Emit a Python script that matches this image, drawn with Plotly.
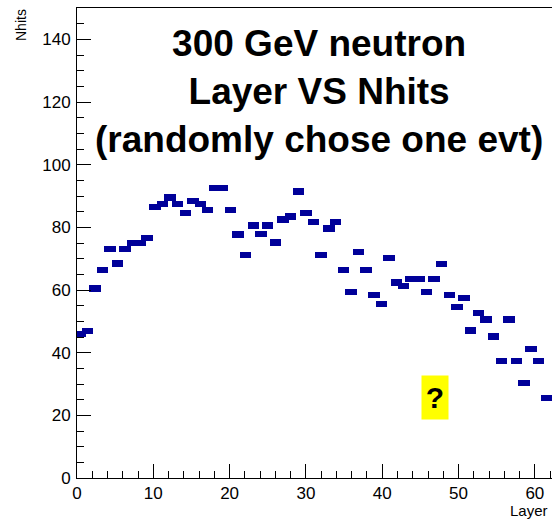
import plotly.graph_objects as go
import numpy as np

# Layer position of each marker
layers = [0.4, 1.35, 2.35, 3.35, 4.3, 5.3, 6.3, 7.3, 8.3, 9.2,
          10.2, 11.2, 12.2, 13.2, 14.2, 15.2, 16.2, 17.1, 18.1, 19.1,
          20.1, 21.1, 22.1, 23.1, 24.1, 25.0, 26.0, 27.0, 28.0, 29.0,
          30.0, 31.0, 32.0, 33.0, 33.9, 34.9, 35.9, 36.9, 37.9, 38.9,
          39.9, 40.9, 41.9, 42.8, 43.8, 44.8, 45.8, 46.8, 47.8, 48.8,
          49.8, 50.7, 51.6, 52.6, 53.6, 54.6, 55.6, 56.6, 57.6, 58.6,
          59.5, 60.5, 61.6]
# Number of hits per layer
nhits = [46, 47, 60.5, 66.5, 73, 68.5, 73, 75, 75, 76.5,
         86.5, 87.5, 89.5, 87.5, 84.5, 88.5, 87.5, 85.5, 92.5, 92.5,
         85.5, 77.7, 71.2, 80.6, 77.8, 80.6, 75.2, 82.5, 83.5, 91.4,
         84.6, 81.6, 71.2, 79.6, 81.6, 66.4, 59.4, 72.2, 66.4, 58.5,
         55.5, 70.3, 62.4, 61.3, 63.4, 63.4, 59.4, 63.4, 68.3, 58.5,
         54.5, 57.4, 47.1, 52.6, 50.6, 45.2, 37.3, 50.6, 37.3, 30.4,
         41.2, 37.3, 25.5]

x_ticks = [0, 10, 20, 30, 40, 50, 60]
y_ticks = [0, 20, 40, 60, 80, 100, 120, 140]

MARK_H = 2.0   # marker height in Nhits units
MARK_W = 1.5   # marker width in layer units
navy = "#000099"

W, H = 552, 519
ML, MR, MT, MB = 77, 0, 8, 41
pw, ph = W - ML - MR, H - MT - MB

fig = go.Figure()
fig.add_trace(go.Bar(
    x=layers,
    y=[MARK_H] * len(nhits),
    base=np.array(nhits) - MARK_H / 2,
    width=MARK_W,
    marker=dict(color=navy, line=dict(width=0)),
    showlegend=False,
))

font = "Liberation Sans, Arial, sans-serif"

def px_x(p):
    return (p - ML) / pw

def px_y(p):
    return (H - MB - p) / ph

fig.update_layout(
    width=W, height=H,
    margin=dict(l=ML, r=MR, t=MT, b=MB, pad=0),
    plot_bgcolor="white", paper_bgcolor="white",
    font=dict(family=font, color="black"),
    bargap=0,
    xaxis=dict(
        range=[0, 62.25], tickvals=x_ticks, ticks="inside", ticklen=14,
        tickwidth=1, tickcolor="black", showline=True, linecolor="black",
        linewidth=1, mirror=True, showgrid=False, zeroline=False,
        tickfont=dict(size=17, family=font, color="black"),
        minor=dict(dtick=2, tick0=0, ticks="inside", ticklen=7,
                   tickcolor="black", tickwidth=1, showgrid=False),
    ),
    yaxis=dict(
        range=[0, 150], tickvals=y_ticks, ticks="inside", ticklen=14,
        tickwidth=1, tickcolor="black", showline=True, linecolor="black",
        linewidth=1, showgrid=False, zeroline=False,
        tickfont=dict(size=17, family=font, color="black"),
        ticklabelstandoff=2,
        minor=dict(dtick=5, tick0=0, ticks="inside", ticklen=7,
                   tickcolor="black", tickwidth=1, showgrid=False),
    ),
)

annotations = [
    dict(text="<b>300 GeV neutron<br>Layer VS Nhits<br>(randomly chose one evt)</b>",
         xref="paper", yref="paper", x=px_x(319), y=px_y(21),
         xanchor="center", yanchor="top", showarrow=False, align="center",
         font=dict(size=37, family=font, color="black")),
    dict(text="<b>?</b>", xref="paper", yref="paper",
         x=px_x(435), y=px_y(397.5), xanchor="center", yanchor="middle",
         showarrow=False, bgcolor="#ffff00", width=24, height=41,
         font=dict(size=30, family=font, color="black")),
    dict(text="Layer", xref="paper", yref="paper", x=px_x(508), y=px_y(511),
         xanchor="left", yanchor="middle", showarrow=False,
         font=dict(size=15, family=font, color="black")),
    dict(text="Nhits", xref="paper", yref="paper", x=px_x(21), y=px_y(7),
         xanchor="center", yanchor="top", showarrow=False, textangle=-90,
         font=dict(size=14, family=font, color="black")),
]
fig.update_layout(annotations=annotations)

fig.write_html("out.html")
